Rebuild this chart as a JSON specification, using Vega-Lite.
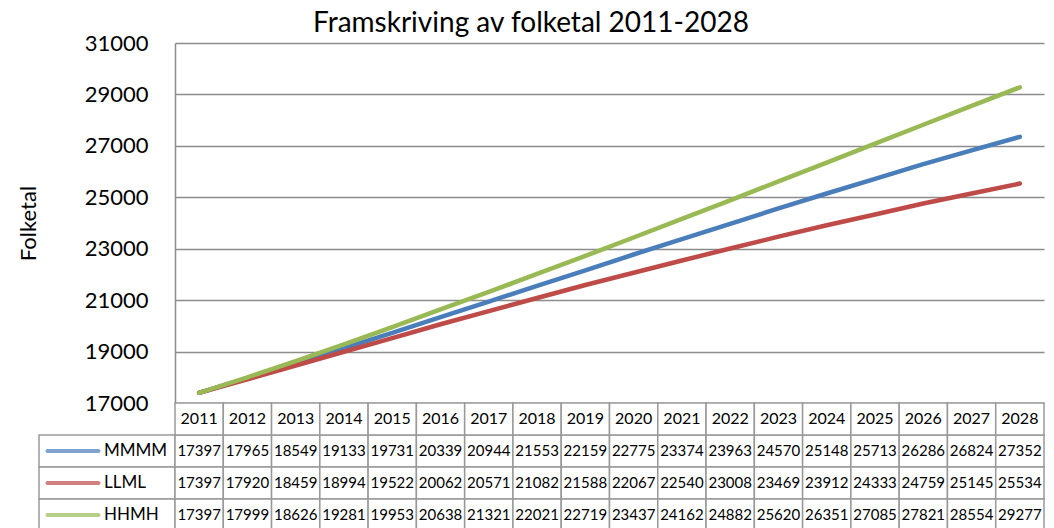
{
  "$schema": "https://vega.github.io/schema/vega-lite/v6.json",
  "background": "white",
  "padding": {"left": 17, "top": 10, "right": 5, "bottom": 0},
  "title": {"text": "Framskriving av folketal 2011-2028", "fontSize": 28, "font": "Lato", "fontWeight": "normal", "color": "black", "anchor": "middle", "offset": -6},
  "datasets": {
    "pop": [
      {"year": "2011", "series": "MMMM", "value": 17397},
      {"year": "2012", "series": "MMMM", "value": 17965},
      {"year": "2013", "series": "MMMM", "value": 18549},
      {"year": "2014", "series": "MMMM", "value": 19133},
      {"year": "2015", "series": "MMMM", "value": 19731},
      {"year": "2016", "series": "MMMM", "value": 20339},
      {"year": "2017", "series": "MMMM", "value": 20944},
      {"year": "2018", "series": "MMMM", "value": 21553},
      {"year": "2019", "series": "MMMM", "value": 22159},
      {"year": "2020", "series": "MMMM", "value": 22775},
      {"year": "2021", "series": "MMMM", "value": 23374},
      {"year": "2022", "series": "MMMM", "value": 23963},
      {"year": "2023", "series": "MMMM", "value": 24570},
      {"year": "2024", "series": "MMMM", "value": 25148},
      {"year": "2025", "series": "MMMM", "value": 25713},
      {"year": "2026", "series": "MMMM", "value": 26286},
      {"year": "2027", "series": "MMMM", "value": 26824},
      {"year": "2028", "series": "MMMM", "value": 27352},
      {"year": "2011", "series": "LLML", "value": 17397},
      {"year": "2012", "series": "LLML", "value": 17920},
      {"year": "2013", "series": "LLML", "value": 18459},
      {"year": "2014", "series": "LLML", "value": 18994},
      {"year": "2015", "series": "LLML", "value": 19522},
      {"year": "2016", "series": "LLML", "value": 20062},
      {"year": "2017", "series": "LLML", "value": 20571},
      {"year": "2018", "series": "LLML", "value": 21082},
      {"year": "2019", "series": "LLML", "value": 21588},
      {"year": "2020", "series": "LLML", "value": 22067},
      {"year": "2021", "series": "LLML", "value": 22540},
      {"year": "2022", "series": "LLML", "value": 23008},
      {"year": "2023", "series": "LLML", "value": 23469},
      {"year": "2024", "series": "LLML", "value": 23912},
      {"year": "2025", "series": "LLML", "value": 24333},
      {"year": "2026", "series": "LLML", "value": 24759},
      {"year": "2027", "series": "LLML", "value": 25145},
      {"year": "2028", "series": "LLML", "value": 25534},
      {"year": "2011", "series": "HHMH", "value": 17397},
      {"year": "2012", "series": "HHMH", "value": 17999},
      {"year": "2013", "series": "HHMH", "value": 18626},
      {"year": "2014", "series": "HHMH", "value": 19281},
      {"year": "2015", "series": "HHMH", "value": 19953},
      {"year": "2016", "series": "HHMH", "value": 20638},
      {"year": "2017", "series": "HHMH", "value": 21321},
      {"year": "2018", "series": "HHMH", "value": 22021},
      {"year": "2019", "series": "HHMH", "value": 22719},
      {"year": "2020", "series": "HHMH", "value": 23437},
      {"year": "2021", "series": "HHMH", "value": 24162},
      {"year": "2022", "series": "HHMH", "value": 24882},
      {"year": "2023", "series": "HHMH", "value": 25620},
      {"year": "2024", "series": "HHMH", "value": 26351},
      {"year": "2025", "series": "HHMH", "value": 27085},
      {"year": "2026", "series": "HHMH", "value": 27821},
      {"year": "2027", "series": "HHMH", "value": 28554},
      {"year": "2028", "series": "HHMH", "value": 29277}
    ]
  },
  "columns": 2,
  "spacing": 0,
  "bounds": "flush",
  "resolve": {"scale": {"x": "independent", "y": "independent", "color": "independent"}},
  "concat": [
    {
      "width": 136, "height": 360,
      "data": {"values": []},
      "mark": {"type": "point", "opacity": 0},
      "encoding": {}
    },
    {
      "width": 869, "height": 360,
      "data": {"name": "pop"},
      "mark": {"type": "line", "strokeWidth": 4.5, "strokeCap": "round", "strokeJoin": "round"},
      "encoding": {
        "x": {"field": "year", "type": "ordinal", "scale": {"type": "point", "padding": 0.5}, "axis": null},
        "y": {
          "field": "value", "type": "quantitative",
          "scale": {"domain": [17000, 31000], "nice": false, "zero": false},
          "axis": {
            "title": "Folketal", "values": [17000, 19000, 21000, 23000, 25000, 27000, 29000, 31000],
            "format": "d", "labelFontSize": 22, "labelColor": "black", "labelPadding": 27, "labelFont": "Lato",
            "ticks": false, "domainColor": "#8c8c8c", "domainWidth": 1.5, "grid": true,
            "gridColor": "#8c8c8c", "gridWidth": 1.5, "titleFontSize": 22, "titleFont": "Lato",
            "titleFontWeight": "normal", "titleColor": "black", "titlePadding": 44
          }
        },
        "color": {"field": "series", "type": "nominal", "sort": ["MMMM", "LLML", "HHMH"], "scale": {"domain": ["MMMM", "LLML", "HHMH"], "range": ["#4A7EBB", "#BE4B48", "#98B954"]}, "legend": null}
      }
    },
    {
      "width": 136, "height": 128,
      "data": {"name": "pop"},
      "transform": [{"filter": "datum.year == '2011'"}],
      "encoding": {
        "y": {"field": "series", "type": "nominal", "scale": {"domain": ["hdr", "MMMM", "LLML", "HHMH"], "paddingInner": 0, "paddingOuter": 0}, "axis": null}
      },
      "layer": [
        {"mark": {"type": "rect", "fill": "white", "stroke": "#999999", "strokeWidth": 1.5}},
        {
          "mark": {"type": "tick", "orient": "horizontal", "thickness": 4, "size": 55, "cornerRadius": 2},
          "encoding": {
            "x": {"datum": "sym", "type": "nominal", "scale": {"type": "band", "domain": ["sym", "lab"], "paddingInner": 0, "paddingOuter": 0}, "axis": null},
            "color": {"field": "series", "type": "nominal", "scale": {"domain": ["MMMM", "LLML", "HHMH"], "range": ["#4A7EBB", "#BE4B48", "#98B954"]}, "legend": null}
          }
        },
        {
          "mark": {"type": "text", "align": "left", "fontSize": 17, "font": "Lato", "color": "black", "dx": -3},
          "encoding": {
            "x": {"datum": "lab", "type": "nominal", "bandPosition": 0},
            "text": {"field": "series"}
          }
        }
      ]
    },
    {
      "width": 869, "height": 128,
      "data": {"name": "pop"},
      "encoding": {
        "x": {"field": "year", "type": "ordinal", "scale": {"type": "band", "paddingInner": 0, "paddingOuter": 0}, "axis": null}
      },
      "layer": [
        {
          "mark": {"type": "rect", "fill": "white", "stroke": "#999999", "strokeWidth": 1.5},
          "encoding": {"y": {"field": "series", "type": "nominal", "scale": {"domain": ["hdr", "MMMM", "LLML", "HHMH"], "paddingInner": 0, "paddingOuter": 0}, "axis": null}}
        },
        {
          "transform": [{"filter": "datum.series == 'MMMM'"}],
          "mark": {"type": "rect", "fill": "white", "stroke": "#999999", "strokeWidth": 1.5},
          "encoding": {"y": {"datum": "hdr", "type": "nominal"}}
        },
        {
          "mark": {"type": "text", "fontSize": 15, "font": "Lato", "color": "black"},
          "encoding": {"y": {"field": "series", "type": "nominal"}, "text": {"field": "value", "format": "d"}}
        },
        {
          "transform": [{"filter": "datum.series == 'MMMM'"}],
          "mark": {"type": "text", "fontSize": 16, "font": "Lato", "color": "black"},
          "encoding": {"y": {"datum": "hdr", "type": "nominal"}, "text": {"field": "year"}}
        }
      ]
    }
  ],
  "config": {"view": {"stroke": null}, "font": "Lato"}
}
